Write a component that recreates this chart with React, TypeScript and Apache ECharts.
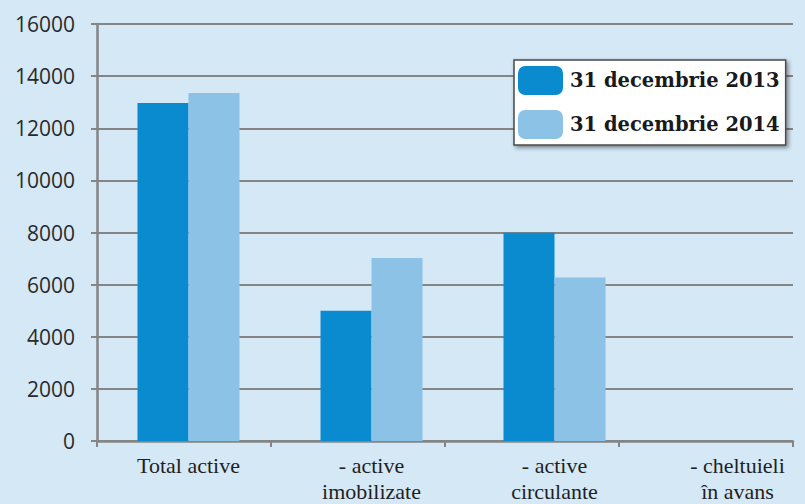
import React, { useEffect, useRef } from "react";
import * as echarts from "echarts";

const categories = ["Total active", "- active\nimobilizate", "- active\ncirculante", "- cheltuieli\nîn avans"];
const series2013 = [12970, 5000, 7990, 0];
const series2014 = [13350, 7020, 6270, 0];
const seriesNames = ["31 decembrie 2013", "31 decembrie 2014"];
const yTicks = { min: 0, max: 16000, interval: 2000 };

export default function App() {
  const ref = useRef<HTMLDivElement>(null);
  useEffect(() => {
    if (!ref.current) return;
    const chart = echarts.init(ref.current, null, { renderer: "svg" });
    const gray = "#858585";
    chart.setOption({
      animation: false,
      backgroundColor: "#d5e8f6",
      grid: [
        { left: 97, top: 24, width: 696, height: 417, outerBoundsMode: "none", containLabel: false },
        { left: 97, top: 24, width: 732, height: 417, outerBoundsMode: "none", containLabel: false },
      ],
      legend: {
        orient: "vertical",
        left: 514,
        top: 60,
        itemWidth: 45,
        itemHeight: 29,
        itemGap: 15,
        padding: [6, 6, 6, 4],
        backgroundColor: "#ffffff",
        borderColor: "#4a4a4a",
        borderWidth: 1.5,
        shadowColor: "rgba(0,0,0,0.45)",
        shadowBlur: 4,
        shadowOffsetX: 2,
        shadowOffsetY: 2,
        textStyle: {
          fontFamily: "DejaVu Serif",
          fontWeight: "bold",
          fontSize: 19.5,
          color: "#1a1a1a",
          padding: [0, 0, 0, 2],
        },
        data: seriesNames,
      },
      xAxis: [
        {
          gridIndex: 0,
          type: "category",
          data: categories,
          axisLine: { show: true, lineStyle: { color: gray, width: 2.5 } },
          axisTick: { show: true, length: 6, lineStyle: { color: gray, width: 2 } },
          axisLabel: { show: false },
          splitLine: { show: false },
        },
        {
          gridIndex: 1,
          type: "category",
          data: categories,
          axisLine: { show: false },
          axisTick: { show: false },
          axisLabel: {
            show: true,
            margin: 11,
            fontFamily: "Liberation Serif",
            fontSize: 22,
            lineHeight: 26,
            color: "#1f1f1f",
          },
        },
      ],
      yAxis: [
        {
          gridIndex: 0,
          type: "value",
          min: yTicks.min,
          max: yTicks.max,
          interval: yTicks.interval,
          axisLine: { show: true, lineStyle: { color: gray, width: 2.5 } },
          axisTick: { show: true, length: 6, lineStyle: { color: gray, width: 2 } },
          splitLine: { show: true, lineStyle: { color: gray, width: 2 } },
          axisLabel: {
            margin: 22,
            fontFamily: "Open Sans",
            fontSize: 21,
            color: "#2a2a2a",
            formatter: (v: number) => String(v),
          },
        },
        {
          gridIndex: 1,
          type: "value",
          min: yTicks.min,
          max: yTicks.max,
          interval: yTicks.interval,
          show: false,
        },
      ],
      series: [
        {
          name: seriesNames[0],
          type: "bar",
          xAxisIndex: 1,
          yAxisIndex: 1,
          data: series2013,
          barWidth: 51,
          barGap: "0%",
          itemStyle: { color: "#0a8bcf" },
        },
        {
          name: seriesNames[1],
          type: "bar",
          xAxisIndex: 1,
          yAxisIndex: 1,
          data: series2014,
          barWidth: 51,
          barGap: "0%",
          itemStyle: { color: "#8cc2e5" },
        },
      ],
    });
    return () => chart.dispose();
  }, []);
  return (
    <div
      ref={ref}
      style={{ position: "fixed", left: 0, top: 0, width: 805, height: 504 }}
    />
  );
}
